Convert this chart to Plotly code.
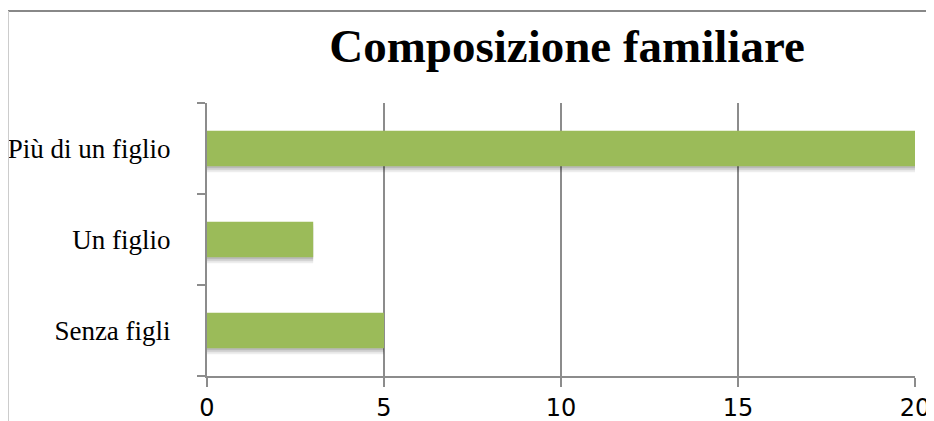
import plotly.graph_objects as go

categories = ["Senza figli", "Un figlio", "Più di un figlio"]
values = [5, 3, 20]
x_ticks = [0, 5, 10, 15, 20]
title_text = "Composizione familiare"

# page has an 8px body margin; figure sized to fit the window
OFF = 8
W, H = 934 - OFF, 421 - OFF
L, R, T, B = 207 - OFF, 19, 103 - OFF, 45
pw, ph = W - L - R, H - T - B
band_px = ph / len(categories)

def px_x(p):
    return (p - OFF - L) / pw

def px_y(p):
    return 1 - (p - OFF - T) / ph

grid_col = "#8c8c8c"
bar_w = 0.39
base_off = -bar_w / 2

fig = go.Figure()
# soft drop shadow under the bars
for shift, alpha in [(6, 0.07), (4, 0.10), (2, 0.12)]:
    fig.add_trace(go.Bar(
        y=categories, x=values, orientation="h",
        marker=dict(color=f"rgba(0,0,0,{alpha})", line=dict(width=0)),
        width=bar_w, offset=base_off - shift / band_px,
        hoverinfo="skip",
    ))
fig.add_trace(go.Bar(
    y=categories, x=values, orientation="h",
    marker=dict(color="#9bbb59", line=dict(width=0)),
    width=bar_w, offset=base_off,
))

fig.update_layout(
    width=W, height=H,
    barmode="overlay",
    margin=dict(l=L, r=R, t=T, b=B, autoexpand=False),
    plot_bgcolor="white", paper_bgcolor="white",
    showlegend=False,
    title=dict(text="<b>" + title_text + "</b>", x=(567 - OFF) / W, xanchor="center",
               y=1 - (46 - OFF) / H, yanchor="middle",
               font=dict(family="Liberation Serif", size=47, color="black")),
    xaxis=dict(range=[0, 20], tickvals=x_ticks, ticktext=[str(v) for v in x_ticks],
               automargin=False,
               showgrid=True, gridcolor=grid_col, gridwidth=2,
               showline=True, linecolor=grid_col, linewidth=2,
               ticks="outside", ticklen=9, tickcolor=grid_col, tickwidth=2,
               zeroline=False,
               tickfont=dict(family="DejaVu Sans", size=24, color="black")),
    yaxis=dict(showline=True, linecolor=grid_col, linewidth=2,
               automargin=False,
               ticks="outside", tickson="boundaries", ticklen=8,
               tickcolor=grid_col, tickwidth=2, showgrid=False,
               ticklabelstandoff=29,
               tickfont=dict(family="Liberation Serif", size=27, color="black")),
)

# outer chart border
fig.add_shape(type="line", xref="paper", yref="paper",
              x0=px_x(7), x1=px_x(933), y0=px_y(11), y1=px_y(11),
              line=dict(color="#888888", width=2))
fig.add_shape(type="line", xref="paper", yref="paper",
              x0=px_x(8.5), x1=px_x(8.5), y0=px_y(11), y1=px_y(430),
              line=dict(color="#cccccc", width=1))
fig.add_shape(type="line", xref="paper", yref="paper",
              x0=px_x(932.5), x1=px_x(932.5), y0=px_y(11), y1=px_y(430),
              line=dict(color="#888888", width=1))

fig.write_html("out.html")
